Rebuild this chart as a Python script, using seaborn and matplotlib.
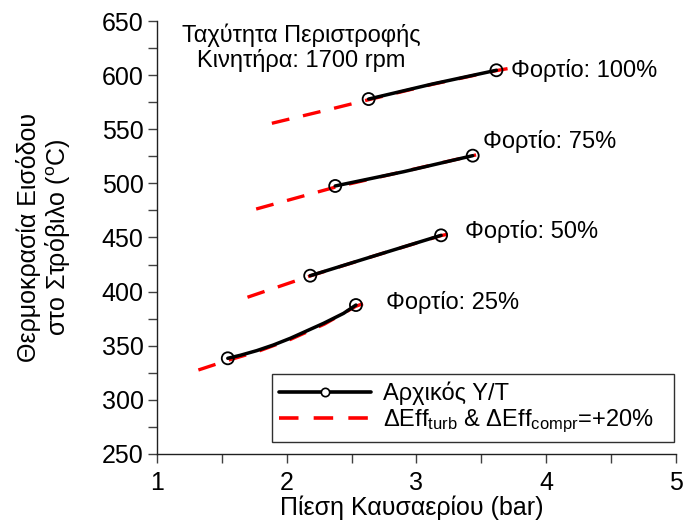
import numpy as np
import pandas as pd
import matplotlib
matplotlib.use("Agg")
import matplotlib.pyplot as plt
import seaborn as sns
from matplotlib.lines import Line2D
from matplotlib.ticker import MultipleLocator

# ---------------- data ----------------
# Original turbocharger (black, solid, circles at ends)
base_x_25 = [1.544, 1.641, 1.768, 1.896, 2.027, 2.283, 2.437, 2.533]
base_y_25 = [338.4, 341.2, 345.5, 350.7, 356.9, 370.7, 379.9, 387.6]
base_x_50 = [2.180, 2.696, 3.190]
base_y_50 = [414.7, 433.8, 452.0]
base_x_75 = [2.373, 2.902, 3.434]
base_y_75 = [497.6, 510.8, 525.6]
base_x_100 = [2.631, 3.123, 3.617]
base_y_100 = [577.9, 591.8, 604.5]

# Improved efficiencies +20% (red, dashed)
imp_x_25 = [1.317, 1.544, 1.770, 2.030, 2.290, 2.533, 2.682]
imp_y_25 = [327.6, 336.5, 344.5, 356.0, 370.0, 386.5, 392.9]
imp_x_50 = [1.696, 2.180, 2.696, 3.190, 3.283]
imp_y_50 = [394.8, 414.5, 433.8, 451.8, 453.9]
imp_x_75 = [1.763, 2.373, 2.902, 3.434, 3.460]
imp_y_75 = [476.3, 496.5, 511.0, 525.6, 526.3]
imp_x_100 = [1.884, 2.300, 2.631, 3.123, 3.617, 3.733]
imp_y_100 = [555.5, 567.5, 577.3, 591.5, 604.2, 606.6]

loads = ["25%", "50%", "75%", "100%"]
load_label_x = [2.764, 3.372, 3.517, 3.733]
load_label_y = [390.1, 455.4, 538.5, 604.1]

legend_labels = ["Αρχικός Υ/Τ",
                 "ΔEff$_{\\mathrm{turb}}$ & ΔEff$_{\\mathrm{compr}}$=+20%"]
x_label = "Πίεση Καυσαερίου (bar)"
y_label = "Θερμοκρασία Εισόδου\nστο Στρόβιλο ($^{\\mathrm{o}}$C)"
note_text = "Ταχύτητα Περιστροφής\nΚινητήρα: 1700 rpm"

base_sets = {"25%": (base_x_25, base_y_25), "50%": (base_x_50, base_y_50),
             "75%": (base_x_75, base_y_75), "100%": (base_x_100, base_y_100)}
imp_sets = {"25%": (imp_x_25, imp_y_25), "50%": (imp_x_50, imp_y_50),
            "75%": (imp_x_75, imp_y_75), "100%": (imp_x_100, imp_y_100)}

rows = []
for ld in loads:
    for xv, yv in zip(*base_sets[ld]):
        rows.append({"load": ld, "kind": "base", "x": xv, "y": yv})
    for xv, yv in zip(*imp_sets[ld]):
        rows.append({"load": ld, "kind": "imp", "x": xv, "y": yv})
df = pd.DataFrame(rows)

# ---------------- styling ----------------
sns.set_style("ticks")
plt.rcParams["font.family"] = ["Liberation Sans", "DejaVu Sans"]
plt.rcParams["mathtext.fontset"] = "custom"
plt.rcParams["mathtext.rm"] = "Liberation Sans"
plt.rcParams["mathtext.it"] = "Liberation Sans:italic"
plt.rcParams["text.color"] = "black"
plt.rcParams["axes.labelcolor"] = "black"
plt.rcParams["xtick.labelcolor"] = "black"
plt.rcParams["ytick.labelcolor"] = "black"

FS = 17
TFS = 18

fig = plt.figure(figsize=(6.83, 5.29), dpi=100)
ax = fig.add_axes([0.2303, 0.1418, 0.7589, 0.8185])

DASH = (5.4, 4.2)
for ld in loads:
    sub = df[(df.load == ld) & (df.kind == "imp")]
    n0 = len(ax.lines)
    sns.lineplot(data=sub, x="x", y="y", ax=ax, color="#ff0000", lw=2.4,
                 estimator=None, sort=False, legend=False, zorder=2)
    for ln in ax.lines[n0:]:
        ln.set_dashes(DASH)
        ln.set_dash_capstyle("butt")

for ld in loads:
    sub = df[(df.load == ld) & (df.kind == "base")]
    sns.lineplot(data=sub, x="x", y="y", ax=ax, color="black", lw=2.5,
                 estimator=None, sort=False, legend=False, zorder=3)
    ends = sub.iloc[[0, -1]]
    sns.scatterplot(data=ends, x="x", y="y", ax=ax, marker="o", s=75,
                    facecolors="none", edgecolor="black", linewidth=1.3,
                    legend=False, zorder=4)

for ld, lx, ly in zip(loads, load_label_x, load_label_y):
    ax.text(lx, ly, f"Φορτίο: {ld}", fontsize=FS, ha="left", va="center",
            color="black")

ax.text(2.11, 625.1, note_text, fontsize=FS, ha="center", va="center",
        linespacing=1.1, color="black")

ax.set_xlim(1, 5)
ax.set_ylim(250, 650)
ax.xaxis.set_major_locator(MultipleLocator(1))
ax.xaxis.set_minor_locator(MultipleLocator(0.5))
ax.yaxis.set_major_locator(MultipleLocator(50))
ax.yaxis.set_minor_locator(MultipleLocator(25))
ax.tick_params(which="both", direction="out", length=6.3, width=1,
               color="#404040")
ax.tick_params(axis="x", which="major", labelsize=TFS, pad=6)
ax.tick_params(axis="y", which="major", labelsize=TFS, pad=3.5)

for side in ["top", "right"]:
    ax.spines[side].set_visible(False)
for side in ["left", "bottom"]:
    ax.spines[side].set_color("#202020")
    ax.spines[side].set_linewidth(1.0)

ax.set_xlabel(x_label, fontsize=TFS)
ax.set_ylabel(y_label, fontsize=TFS, linespacing=1.1)
ax.xaxis.set_label_coords(0.49, -0.095)
ax.yaxis.set_label_coords(-0.165, 0.5)

handles = [
    Line2D([], [], color="black", lw=2.6, marker="o", ms=6,
           mfc="white", mec="black", mew=1.2),
    Line2D([], [], color="#ff0000", lw=2.6, dashes=(5.4, 4.2)),
]
leg = ax.legend(handles, legend_labels, loc="lower left",
                bbox_to_anchor=(0.2213, 0.028, 0.7756, 0.15), mode="expand",
                borderaxespad=0,
                fontsize=FS, numpoints=1, handlelength=3.9,
                handletextpad=0.5, labelspacing=0.1, borderpad=0.3,
                frameon=True, fancybox=False, framealpha=1,
                edgecolor="#303030")
leg.get_frame().set_linewidth(1.0)

fig.savefig("out.png", dpi=100)
